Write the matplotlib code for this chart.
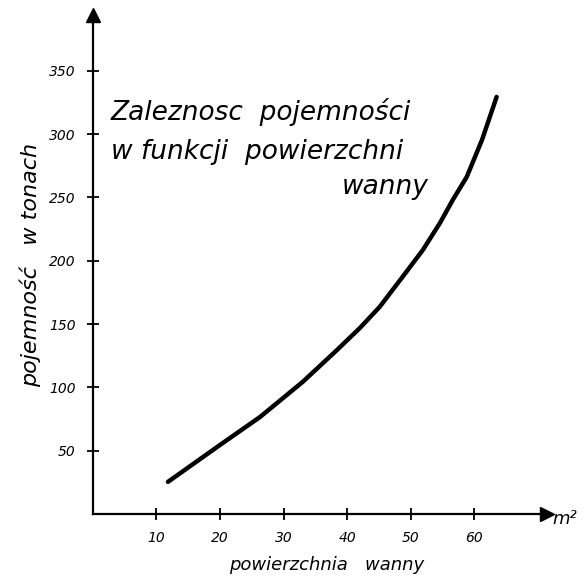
import matplotlib
matplotlib.use("Agg")

import matplotlib.pyplot as plt


# values
area_m2 = [11.8, 20.0, 26.3, 33.0, 38.4, 42.0, 45.1, 48.7, 51.9, 54.6, 56.6, 58.8, 61.2, 63.5]
capacity_t = [25.3, 54.5, 76.6, 104.3, 129.5, 146.9, 163.5, 187.2, 208.5, 229.9, 248.0, 266.2, 295.4, 329.4]

x_ticks = [10, 20, 30, 40, 50, 60]
y_ticks = [50, 100, 150, 200, 250, 300, 350]

title_lines = ["Zaleznosc  pojemności", "w funkcji  powierzchni", "wanny"]
x_label = "powierzchnia   wanny"
y_label = "pojemność   w tonach"
x_unit = "m²"

X_MAX = 71.4
Y_MAX = 394

fig = plt.figure(figsize=(5.88, 5.82), dpi=100)
ax = fig.add_axes([0.158, 0.117, 0.772, 0.857])

ax.plot(area_m2, capacity_t, color="black", lw=3.2, solid_capstyle="round")

ax.set_xlim(0, X_MAX)
ax.set_ylim(0, Y_MAX)
for side in ("top", "right"):
    ax.spines[side].set_visible(False)
for side in ("left", "bottom"):
    ax.spines[side].set_linewidth(1.6)

# arrow heads at the ends of both axes
ax.plot(1, 0, ">", color="black", ms=10, transform=ax.transAxes, clip_on=False)
ax.plot(0, 1, "^", color="black", ms=10, transform=ax.transAxes, clip_on=False)

ax.set_xticks(x_ticks)
ax.set_yticks(y_ticks)
ax.tick_params(direction="inout", length=9, width=1.3, labelsize=10, pad=8)
for lbl in ax.get_xticklabels() + ax.get_yticklabels():
    lbl.set_fontstyle("italic")

ax.text(0.04, 0.805, title_lines[0], transform=ax.transAxes, fontsize=19,
        style="italic", ha="left", va="center")
ax.text(0.04, 0.725, title_lines[1], transform=ax.transAxes, fontsize=19,
        style="italic", ha="left", va="center")
ax.text(0.74, 0.655, title_lines[2], transform=ax.transAxes, fontsize=19,
        style="italic", ha="right", va="center")

fig.text(0.555, 0.03, x_label, fontsize=13, style="italic", ha="center", va="center")
fig.text(0.052, 0.545, y_label, fontsize=16, style="italic", rotation=90,
         ha="center", va="center")
fig.text(0.96, 0.108, x_unit, fontsize=13, style="italic", ha="center", va="center")

fig.savefig("out.png", dpi=100)
plt.close(fig)
